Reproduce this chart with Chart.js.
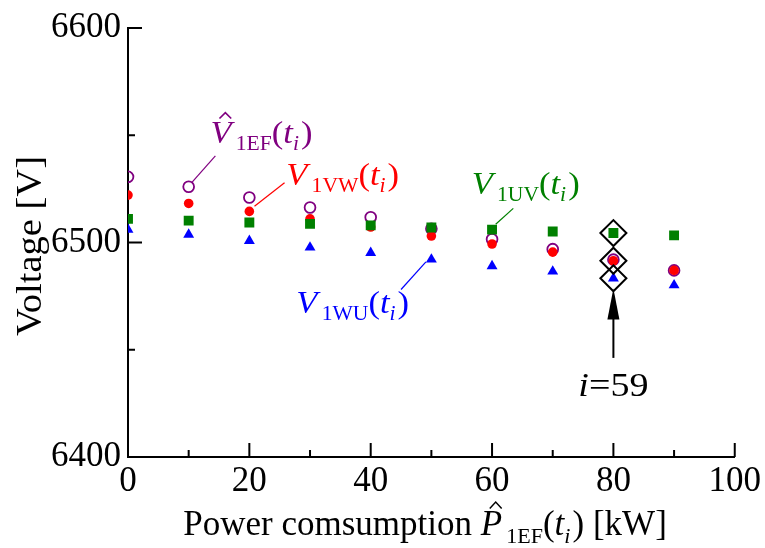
<!DOCTYPE html>
<html>
<head>
<meta charset="utf-8">
<script src="https://cdn.jsdelivr.net/npm/chart.js@4/dist/chart.umd.min.js"></script>
<style>
  html, body { margin: 0; padding: 0; background: #fff; }
  #wrap { width: 765px; height: 548px; }
</style>
</head>
<body>
<div id="wrap"><canvas id="myChart" width="765" height="548"></canvas></div>
<script>
'use strict';
const SERIF = '"Liberation Serif", "Times New Roman", serif';

// Power consumption P_1EF(t_i) [kW]
const power = [0, 10, 20, 30, 40, 50, 60, 70, 80, 90];

// Voltages [V]
const vHat1EF = [6530.6, 6526.0, 6521.0, 6516.3, 6511.8, 6506.4, 6501.5, 6496.9, 6492.0, 6487.0];
const v1VW    = [6522.1, 6518.2, 6514.5, 6511.0, 6507.2, 6503.0, 6499.3, 6495.5, 6491.5, 6487.0];
const v1UV    = [6511.0, 6510.2, 6509.3, 6508.7, 6508.0, 6507.0, 6506.0, 6505.1, 6504.4, 6503.3];
const v1WU    = [6506.0, 6503.7, 6500.8, 6497.7, 6495.2, 6492.1, 6489.0, 6486.5, 6483.3, 6480.1];

// The sample i = 59 is marked with diamonds
const markIndex = 8;
const markLabel = '59';

// Axis ticks
const xTicks = [0, 20, 40, 60, 80, 100];
const xMinorTicks = [10, 30, 50, 70, 90];
const yTicks = [6400, 6500, 6600];
const yMinorTicks = [6450, 6550];

// Labels beside the series: text parts, colour, anchor and leader line (data units)
const seriesLabels = [
    { color: '#800080', at: [13.6, 6546.5], line: [[14.4, 6540.4], [10.5, 6527.9]],
      parts: [{ t: 'V', it: true, corr: true, hat: true }, { t: '1EF', sub: true }, { t: '(' }, { t: 't', it: true }, { t: 'i', it: true, sub: true, corr: true }, { t: ')' }] },
    { color: '#ff0000', at: [26.1, 6526.6], line: [[25.8, 6527.9], [20.85, 6516.9]],
      parts: [{ t: 'V', it: true, corr: true }, { t: '1VW', sub: true }, { t: '(' }, { t: 't', it: true }, { t: 'i', it: true, sub: true, corr: true }, { t: ')' }] },
    { color: '#008000', at: [56.65, 6522.4], line: [[63.5, 6515.9], [60.6, 6508.5]],
      parts: [{ t: 'V', it: true, corr: true }, { t: '1UV', sub: true }, { t: '(' }, { t: 't', it: true }, { t: 'i', it: true, sub: true, corr: true }, { t: ')' }] },
    { color: '#0000ff', at: [27.75, 6467.0], line: [[49.1, 6491.0], [45.0, 6478.1]],
      parts: [{ t: 'V', it: true, corr: true }, { t: '1WU', sub: true }, { t: '(' }, { t: 't', it: true }, { t: 'i', it: true, sub: true, corr: true }, { t: ')' }] }
];

// Arrow pointing at the marked sample
const arrow = { x: 80, from: 6446.2, to: 6478.5, labelY: 6428.6 };

function toPoints(ys) {
    return ys.map((y, i) => ({ x: power[i], y: y }));
}

function partFont(p, size) {
    const s = p.sub ? Math.round(size * 0.64) : size;
    return (p.it ? 'italic ' : '') + s + 'px ' + SERIF;
}

// Draws a run of text with italic / subscript parts (sx stretches it horizontally)
function drawRich(ctx, parts, x, y, size, color, align, sx) {
    sx = sx || 1;
    let total = 0;
    parts.forEach(p => {
        ctx.font = partFont(p, size);
        p.w = ctx.measureText(p.t).width;
        // italic correction before an upright part
        if (p.corr) p.w += size * (p.sub ? 0.06 : 0.12);
        total += p.w;
    });
    ctx.save();
    ctx.translate(x, y);
    ctx.scale(sx, 1);
    let cx = align === 'center' ? -total / 2 : 0;
    ctx.fillStyle = color;
    ctx.strokeStyle = color;
    ctx.textAlign = 'left';
    ctx.textBaseline = 'alphabetic';
    parts.forEach(p => {
        ctx.font = partFont(p, size);
        ctx.fillText(p.t, cx, p.sub ? size * 0.22 : 0);
        if (p.hat) {
            const hx = cx + p.w * 0.45 + size * 0.1;
            const top = -size * 0.66 - size * 0.28;
            ctx.lineWidth = 1.5;
            ctx.beginPath();
            ctx.moveTo(hx - size * 0.17, top + size * 0.18);
            ctx.lineTo(hx, top);
            ctx.lineTo(hx + size * 0.17, top + size * 0.18);
            ctx.stroke();
        }
        cx += p.w;
    });
    ctx.restore();
}

const decorations = {
    id: 'decorations',
    afterDraw(chart) {
        const ctx = chart.ctx;
        const xs = chart.scales.x, ys = chart.scales.y;
        const area = chart.chartArea;
        ctx.save();

        // Inward tick marks
        ctx.strokeStyle = '#000';
        ctx.lineWidth = 2;
        ctx.beginPath();
        xTicks.concat(xMinorTicks).forEach(v => {
            const len = xTicks.includes(v) ? 14 : 7;
            const px = xs.getPixelForValue(v);
            ctx.moveTo(px, area.bottom);
            ctx.lineTo(px, area.bottom - len);
        });
        yTicks.concat(yMinorTicks).forEach(v => {
            const len = yTicks.includes(v) ? 14 : 7;
            const py = ys.getPixelForValue(v);
            ctx.moveTo(area.left, py);
            ctx.lineTo(area.left + len, py);
        });
        ctx.stroke();

        // Series labels and leader lines
        seriesLabels.forEach(lab => {
            ctx.strokeStyle = lab.color;
            ctx.lineWidth = 1.2;
            ctx.beginPath();
            ctx.moveTo(xs.getPixelForValue(lab.line[0][0]), ys.getPixelForValue(lab.line[0][1]));
            ctx.lineTo(xs.getPixelForValue(lab.line[1][0]), ys.getPixelForValue(lab.line[1][1]));
            ctx.stroke();
            drawRich(ctx, lab.parts, xs.getPixelForValue(lab.at[0]), ys.getPixelForValue(lab.at[1]), 32, lab.color, 'left', 1.08);
        });

        // Arrow to the marked sample
        const ax = xs.getPixelForValue(arrow.x);
        const tip = ys.getPixelForValue(arrow.to);
        const tail = ys.getPixelForValue(arrow.from);
        ctx.strokeStyle = '#000';
        ctx.fillStyle = '#000';
        ctx.lineWidth = 2;
        ctx.beginPath();
        ctx.moveTo(ax, tail);
        ctx.lineTo(ax, tip + 28);
        ctx.stroke();
        ctx.beginPath();
        ctx.moveTo(ax, tip);
        ctx.lineTo(ax - 6, tip + 31);
        ctx.lineTo(ax + 6, tip + 31);
        ctx.closePath();
        ctx.fill();
        drawRich(ctx, [{ t: 'i', it: true }, { t: '=' + markLabel }], ax, ys.getPixelForValue(arrow.labelY), 34, '#000', 'center', 1.12);

        // Axis titles
        drawRich(ctx, [
            { t: 'Power comsumption ' }, { t: 'P', it: true, corr: true, hat: true }, { t: '1EF', sub: true },
            { t: '(' }, { t: 't', it: true }, { t: 'i', it: true, sub: true, corr: true }, { t: ') [kW]' }
        ], 425, 535, 35, '#000', 'center');

        ctx.translate(41, 246);
        ctx.rotate(-Math.PI / 2);
        drawRich(ctx, [{ t: 'Voltage [V]' }], 0, 0, 35, '#000', 'center', 1.1);
        ctx.restore();
    }
};

function renderChart() {
    const ctx = document.getElementById('myChart').getContext('2d');
    new Chart(ctx, {
        type: 'scatter',
        data: {
            datasets: [
                {
                    label: 'i=' + markLabel,
                    data: [v1UV, v1VW, v1WU].map(s => ({ x: power[markIndex], y: s[markIndex] })),
                    pointStyle: 'rectRot', pointRadius: 13, borderWidth: 2,
                    borderColor: '#000', backgroundColor: 'rgba(0,0,0,0)'
                },
                {
                    label: 'V1UV', data: toPoints(v1UV),
                    pointStyle: 'rect', pointRadius: 7, borderWidth: 0,
                    backgroundColor: '#008000', borderColor: '#008000'
                },
                {
                    label: 'V1WU', data: toPoints(v1WU),
                    pointStyle: 'triangle', pointRadius: 6.3, borderWidth: 0,
                    backgroundColor: '#0000ff', borderColor: '#0000ff'
                },
                {
                    label: 'V1VW', data: toPoints(v1VW),
                    pointStyle: 'circle', pointRadius: 4.8, borderWidth: 0,
                    backgroundColor: '#ff0000', borderColor: '#ff0000'
                },
                {
                    label: 'V1EF', data: toPoints(vHat1EF),
                    pointStyle: 'circle', pointRadius: 5.4, borderWidth: 1.8,
                    backgroundColor: 'rgba(0,0,0,0)', borderColor: '#800080'
                }
            ]
        },
        options: {
            responsive: false,
            animation: false,
            layout: { padding: { top: 24, right: 28, left: 0, bottom: 0 } },
            plugins: { legend: { display: false }, tooltip: { enabled: false } },
            scales: {
                x: {
                    type: 'linear', min: 0, max: 100,
                    afterFit: s => { s.height = 91; },
                    ticks: { stepSize: 20, color: '#000', padding: 4, font: { family: SERIF, size: 35 },
                             callback: v => String(v) },
                    grid: { display: false, drawTicks: false },
                    border: { display: true, color: '#000', width: 2 }
                },
                y: {
                    type: 'linear', min: 6400, max: 6600,
                    afterFit: s => { s.width = 128; },
                    ticks: { stepSize: 100, color: '#000', padding: 7, font: { family: SERIF, size: 35 },
                             callback: v => String(v) },
                    grid: { display: false, drawTicks: false },
                    border: { display: true, color: '#000', width: 2 }
                }
            }
        },
        plugins: [decorations]
    });
}

renderChart();
</script>
</body>
</html>
